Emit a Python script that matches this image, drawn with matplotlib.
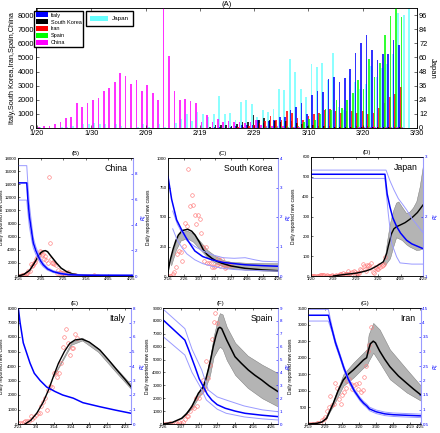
import numpy as np
import matplotlib
matplotlib.use("Agg")
import matplotlib.pyplot as plt
from matplotlib.patches import Patch

plt.rcParams["font.family"] = ["Liberation Sans", "DejaVu Sans"]
plt.rcParams["xtick.direction"] = "in"
plt.rcParams["ytick.direction"] = "in"
plt.rcParams["axes.linewidth"] = 0.5
plt.rcParams["xtick.major.width"] = 0.4
plt.rcParams["ytick.major.width"] = 0.4
plt.rcParams["xtick.major.size"] = 2
plt.rcParams["ytick.major.size"] = 2

# ---------------- panel A : daily new cases, day 0 = 1/20 ----------------
a_tick_days = [0, 10, 20, 30, 40, 50, 60, 70]
a_tick_labels = ["1/20", "1/30", "2/09", "2/19", "2/29", "3/10", "3/20", "3/30"]

china_new = [77, 149, 131, 259, 444, 688, 769, 1771, 1459, 1737, 1981, 2099, 2589, 2825,
             3235, 3884, 3694, 3143, 3385, 2652, 3070, 2478, 2015, 15152, 5090, 2641, 2008,
             2048, 1886, 1749, 394, 889, 397, 648, 409, 508, 406, 433, 327, 427, 573, 202,
             125, 119, 139, 143, 99, 44, 40, 19, 24, 15, 8, 11, 20, 16, 21, 13, 34, 39, 41,
             46, 39, 78, 47, 67, 55, 54]
italy_start = 32
italy_new = [17, 59, 78, 72, 94, 147, 185, 234, 239, 566, 342, 466, 587, 769, 778, 1247,
             1492, 1797, 977, 2313, 2651, 2547, 3497, 3590, 3233, 3526, 4207, 5322, 5986,
             6557, 5560, 4789, 5249, 5210, 6203, 5909]
skorea_start = 27
skorea_new = [0, 1, 1, 15, 34, 74, 190, 210, 207, 130, 253, 449, 427, 909, 595, 686, 600,
              516, 438, 518, 483, 367, 248, 131, 242, 114, 110, 107, 76, 74, 84, 93, 152,
              87, 147, 98, 64, 76, 100, 104, 91]
iran_start = 30
iran_new = [2, 3, 13, 10, 15, 18, 34, 44, 106, 143, 205, 385, 523, 835, 586, 591, 1234,
            1076, 743, 595, 881, 958, 1075, 1289, 1365, 1209, 1053, 1178, 1192, 1046, 1237,
            966, 1028, 1411, 1762, 2206, 2389, 2926]
spain_start = 37
spain_new = [1, 10, 10, 13, 39, 36, 45, 57, 37, 141, 100, 173, 400, 622, 582, 1000, 1330,
             1250, 2000, 1400, 2000, 2500, 3400, 2750, 4900, 3600, 4580, 6580, 7900, 8600,
             7830]
japan_new = [1, 0, 0, 0, 1, 1, 2, 0, 3, 3, 4, 3, 3, 0, 3, 2, 0, 0, 1, 3, 1, 0, 3, 1, 0, 4,
             8, 12, 6, 14, 12, 9, 12, 27, 12, 13, 7, 22, 24, 20, 9, 15, 14, 16, 33, 32, 59,
             48, 33, 26, 54, 52, 55, 41, 64, 18, 15, 44, 39, 33, 37, 53, 43, 51, 54, 63, 98,
             96, 112]

# ---------------- panel B : China (day 0 = 1/16) ----------------
b_ticks = [0, 20, 40, 60, 80, 100]
b_labels = ["1/16", "2/05", "2/25", "3/16", "4/05", "4/25"]
b_early = [4, 17, 59, 77]
b_fit_days = [0, 5, 10, 14, 17, 20, 22, 24, 26, 28, 31, 34, 38, 43, 48, 55, 65, 80, 102]
b_fit = [0, 250, 850, 1900, 2800, 3550, 3800, 3870, 3700, 3250, 2600, 1950, 1200, 650, 330,
         120, 30, 5, 0]
b_rt_days = [0, 7.5, 8.5, 9.8, 11.9, 13.3, 15.5, 17.7, 20, 22.2, 26, 31, 37, 45, 60, 102]
b_rt = [7.3, 7.3, 6.0, 4.7, 3.4, 2.6, 2.0, 1.55, 1.15, 0.87, 0.55, 0.34, 0.2, 0.1, 0.06, 0.05]
b_rt_hi = [8.65, 8.65, 7.2, 5.6, 4.0, 3.0, 2.3, 1.8, 1.35, 1.0, 0.65, 0.42, 0.26, 0.15, 0.1, 0.08]
b_rt_lo = [5.95, 5.95, 5.0, 3.9, 2.8, 2.2, 1.7, 1.3, 0.95, 0.72, 0.45, 0.27, 0.15, 0.07, 0.03, 0.02]

# ---------------- panel C : South Korea (day 0 = 2/16) ----------------
c_ticks = [0, 10, 20, 30, 40, 50, 60, 70]
c_labels = ["2/16", "2/26", "3/07", "3/17", "3/27", "4/06", "4/16", "4/26"]
c_fit_days = [0, 1.5, 3.4, 5, 6.6, 9, 12.5, 15, 17.2, 20, 22.5, 25, 27.8, 31, 34.2, 40, 49, 60, 70]
c_fit = [36, 140, 235, 300, 347, 385, 396, 380, 347, 285, 220, 180, 150, 125, 108, 85, 65, 52, 45]
c_band_days = [2, 5, 8, 12, 16, 20, 25, 30, 35, 40, 50, 60, 70]
c_band_hi = [150, 300, 370, 385, 360, 300, 220, 170, 135, 120, 112, 110, 108]
c_band_lo = [90, 220, 300, 320, 290, 230, 160, 110, 80, 65, 52, 46, 42]
c_rt_days = [0, 2.3, 5.5, 8.7, 12, 17, 22, 27.8, 35, 49, 60, 70]
c_rt = [3.37, 2.6, 1.9, 1.56, 1.25, 0.85, 0.66, 0.55, 0.46, 0.38, 0.35, 0.33]
c_ci_days = [3, 6, 9, 12, 17, 22, 28, 35, 42, 49, 55, 60, 70]
c_rt_hi = [2.2, 1.75, 1.45, 1.2, 1.0, 0.85, 0.72, 0.62, 0.6, 0.62, 0.55, 0.5, 0.48]
c_rt_lo = [1.6, 1.2, 0.95, 0.75, 0.55, 0.42, 0.33, 0.26, 0.22, 0.2, 0.19, 0.18, 0.17]

# ---------------- panel D : Japan (day 0 = 1/20) ----------------
d_ticks = [0, 20, 40, 60, 80, 100]
d_labels = ["1/20", "2/09", "2/29", "3/20", "4/09", "4/29"]
d_obs_days = 67
d_fit_days = [20, 26, 32, 37, 41, 45, 50, 54, 58.6, 62, 64.6, 66, 67.6, 69, 70.5, 72, 74,
              76.5, 80, 84, 88, 91.3, 95, 100]
d_fit = [0, 5, 9, 12, 15, 20, 27, 36, 50, 62, 72, 90, 115, 150, 182, 215, 238, 249, 258,
         269, 285, 300, 320, 358]
d_band_days = [64, 66, 68, 70.5, 73.5, 76, 78, 81, 85, 88, 91, 94, 97, 100]
d_band_hi = [72, 97, 180, 267, 333, 370, 376, 350, 317, 325, 345, 376, 450, 560]
d_band_lo = [72, 55, 70, 89, 150, 195, 190, 182, 160, 148, 140, 131, 133, 140]
d_rt_days = [0, 66, 68, 70.5, 73, 76.5, 80, 85.4, 90, 95, 100]
d_rt = [2.71, 2.71, 2.38, 2.16, 1.98, 1.83, 1.72, 1.6, 1.54, 1.5, 1.46]
d_hi_days = [0, 67, 70.5, 74, 78, 82, 85.4, 90, 95, 100]
d_rt_hi = [2.78, 2.78, 2.6, 2.45, 2.3, 2.2, 2.11, 1.97, 1.85, 1.73]
d_lo_days = [0, 66, 69, 72, 76.5, 79.5, 90, 100]
d_rt_lo = [2.64, 2.64, 2.05, 1.55, 1.32, 1.22, 1.2, 1.2]

# ---------------- panel E : Italy (day 0 = 2/23) ----------------
e_ticks = [0, 10, 20, 30, 40, 50, 60]
e_labels = ["2/23", "3/4", "3/14", "3/24", "4/3", "4/13", "4/23"]
e_fit_days = [3.8, 7, 10.4, 14, 17, 20, 22.6, 26, 29, 32, 35.8, 40, 46, 51, 55.6, 60, 63.5]
e_fit = [0, 250, 740, 1500, 2340, 3350, 4180, 5000, 5560, 5800, 5860, 5650, 5100, 4400,
         3720, 3100, 2570]
e_band_days = [20, 30, 36, 45, 55, 63.5]
e_band_hi = [3400, 5650, 5960, 5230, 3870, 2730]
e_band_lo = [3300, 5470, 5760, 4970, 3570, 2420]
e_rt_days = [0, 1, 2.8, 6.6, 9, 12.3, 16, 20.7, 25, 31, 36.4, 46, 55, 63.5]
e_rt = [8.0, 7.0, 5.6, 4.2, 3.5, 3.0, 2.55, 2.24, 2.0, 1.78, 1.47, 1.19, 0.95, 0.74]

# ---------------- panel F : Spain (day 0 = 2/26) ----------------
f_ticks = [0, 10, 20, 30, 40, 50, 60]
f_labels = ["2/26", "3/07", "3/17", "3/27", "4/6", "4/16", "4/26"]
f_fit_days = [0, 5, 10.2, 13, 15.8, 18, 19.5, 21, 22.3, 23.7, 25, 26.5, 27.8, 29.2, 30.6,
              31.5, 32.5, 35.3, 39.9, 43.5, 47.3, 51, 54.8, 59, 64]
f_fit = [0, 120, 440, 800, 1340, 1950, 2380, 2650, 2890, 3500, 4190, 5100, 6000, 6800, 7420,
         7500, 7400, 6510, 5220, 4700, 4190, 3780, 3410, 2950, 2500]
f_band_days = [10, 16, 20, 23, 26, 28, 30.6, 31.5, 33, 35.3, 40, 47, 55, 64]
f_band_hi = [480, 1450, 2600, 3300, 5100, 6800, 8300, 8600, 8500, 7540, 6300, 5300, 4600, 3930]
f_band_lo = [400, 1230, 2150, 2600, 3800, 5200, 5850, 6000, 5800, 4960, 3800, 2800, 2000, 1340]
f_rt_days = [0, 12, 14, 17.6, 20, 22.3, 24.5, 27, 30, 34.5, 40, 45.5, 55, 64]
f_rt = [8.06, 6.51, 5.8, 4.45, 3.5, 2.89, 2.3, 1.86, 1.5, 1.22, 1.0, 0.83, 0.68, 0.57]
f_hi_days = [0, 12, 16, 21.4, 25, 30, 35, 45, 55, 64]
f_rt_hi = [8.9, 7.4, 5.8, 4.19, 2.64, 2.1, 1.86, 1.4, 1.1, 0.95]
f_lo_days = [0, 12, 16, 20.5, 24, 30, 35, 45, 55, 64]
f_rt_lo = [6.77, 5.35, 4.0, 2.9, 1.86, 1.15, 0.83, 0.55, 0.4, 0.31]

# ---------------- panel G : Iran (day 0 = 2/19) ----------------
g_ticks = [0, 10, 20, 30, 40, 50, 60, 66]
g_labels = ["2/19", "2/29", "3/10", "3/20", "3/30", "4/09", "4/19", "4/25"]
g_fit_days = [0, 5, 8, 10.8, 14.7, 17.5, 20.6, 23.5, 26.5, 29.5, 32.4, 34.3, 35.5, 36.5,
              38.2, 39.5, 42, 45, 48, 53, 57.9, 62, 66.3]
g_fit = [0, 20, 60, 170, 625, 1000, 1330, 1500, 1630, 1780, 1930, 2000, 2250, 2420, 2500,
         2450, 2200, 1950, 1730, 1450, 1230, 1050, 875]
g_band_days = [10, 14.7, 20.6, 26.5, 32.4, 34.3, 35.5, 38.2, 42, 48, 57.9, 66.3]
g_band_hi = [200, 700, 1500, 1850, 2150, 2250, 2700, 3050, 2850, 2250, 1650, 1150]
g_band_lo = [140, 550, 1150, 1400, 1700, 1750, 1900, 2150, 1850, 1350, 950, 700]
g_rt_days = [0, 11.8, 14, 16, 18.6, 21, 23.5, 27, 30.4, 32.5, 34.3, 36, 40, 45, 50, 58, 66.3]
g_rt = [4.25, 4.25, 3.75, 3.3, 2.85, 2.42, 2.05, 1.65, 1.36, 1.22, 1.13, 1.02, 0.92, 0.85,
        0.82, 0.8, 0.78]
g_rt_hi = [4.45, 4.45, 3.85, 3.38, 2.92, 2.49, 2.11, 1.71, 1.42, 1.28, 1.19, 1.08, 0.98,
           0.91, 0.88, 0.86, 0.84]
g_rt_lo = [4.05, 4.05, 3.67, 3.22, 2.78, 2.35, 1.99, 1.59, 1.3, 1.16, 1.07, 0.96, 0.86,
           0.79, 0.76, 0.74, 0.72]

BLUE = "#0000ff"
LIGHTBLUE = "#9a9aff"
CIRCLE = "#ff7b7b"

fig = plt.figure(figsize=(4.4, 4.33), dpi=100)


def px_rect(x0, y0, x1, y1):
    return [x0 / 440, 1 - y1 / 433, (x1 - x0) / 440, (y1 - y0) / 433]


# ---------------- draw A ----------------
axA = fig.add_axes(px_rect(36, 8, 417, 128))
axJ = axA.twinx()
series = [(italy_start, italy_new, "Italy", "#0000ff"),
          (skorea_start, skorea_new, "South Korea", "#000000"),
          (iran_start, iran_new, "Iran", "#ff0000"),
          (spain_start, spain_new, "Spain", "#00ff00"),
          (0, china_new, "China", "#ff00ff")]
offsets = [-0.3, -0.15, 0.0, 0.15, 0.3]
handles = []
for (start, vals, lab, col), off in zip(series, offsets):
    days = start + np.arange(len(vals))
    axA.bar(days + off, vals, width=0.3, color=col, alpha=0.8, linewidth=0)
    handles.append(Patch(facecolor=col, edgecolor="none", label=lab))
axJ.bar(np.arange(len(japan_new)) + 0.55, japan_new, width=0.34, color="#00ffff",
        alpha=0.45, linewidth=0)
axA.set_zorder(axJ.get_zorder() + 1)
axA.patch.set_visible(False)

axA.set_xlim(-0.2, 70)
axA.set_ylim(0, 8500)
axJ.set_ylim(0, 102)
axA.set_xticks(a_tick_days)
axA.set_xticklabels(a_tick_labels)
axA.set_yticks(range(0, 8001, 1000))
axJ.set_yticks(range(0, 97, 12))
axA.tick_params(labelsize=5.3, pad=1.5, top=True)
axJ.tick_params(labelsize=5.3, pad=1.5)
axA.set_ylabel("Italy,South Korea,Iran,Spain,China", fontsize=5.3, labelpad=1)
axJ.set_ylabel("Japan", fontsize=5.5, rotation=270, labelpad=6)
axA.set_title("(A)", fontsize=5.5, pad=1.5)
axA.legend(handles=handles, loc="upper left", bbox_to_anchor=(-0.012, 1.0), fontsize=4,
           handlelength=2.2, handleheight=0.9, labelspacing=0.3, borderpad=0.3,
           handletextpad=0.5, fancybox=False, edgecolor="black", framealpha=1)
axJ.legend(handles=[Patch(facecolor="#00ffff", alpha=0.6, label="Japan")], loc="upper left",
           bbox_to_anchor=(0.123, 1.0), fontsize=4.5, handlelength=2.8, handleheight=1.0,
           borderpad=0.7, handletextpad=0.6, fancybox=False, edgecolor="black", framealpha=1)


# ---------------- panels B-G ----------------
def panel(px, title, name, xlim, xticks, xlabels, ylim, yticks, rlim, rticks, rlabels,
          ylab_x, rlab_x):
    x0, y0, x1, y1 = px
    ax = fig.add_axes(px_rect(x0, y0, x1, y1))
    axr = ax.twinx()
    ax.set_xlim(*xlim)
    ax.set_xticks(xticks)
    ax.set_xticklabels(xlabels)
    ax.set_ylim(*ylim)
    ax.set_yticks(yticks)
    axr.set_ylim(*rlim)
    axr.set_yticks(rticks)
    axr.set_yticklabels(rlabels)
    ax.tick_params(labelsize=3.2, pad=1, top=True, length=1.5)
    axr.tick_params(labelsize=3.2, pad=1, colors=BLUE, length=1.5)
    axr.spines["right"].set_color(LIGHTBLUE)
    axr.spines["right"].set_linewidth(0.8)
    ax.set_ylabel("Daily reported new cases", fontsize=3.5)
    ax.yaxis.set_label_coords((ylab_x - x0) / (x1 - x0), 0.5)
    axr.set_ylabel(r"$R_t^c$", fontsize=3.6, color=BLUE, rotation=90)
    axr.yaxis.set_label_coords((rlab_x - x0) / (x1 - x0), 0.5)
    ax.set_title(title, fontsize=4.3, pad=2)
    ax.text(0.95, 0.95, name, transform=ax.transAxes, ha="right", va="top", fontsize=6.3)
    return ax, axr


def circles(ax, vals):
    ax.plot(np.arange(len(vals)), vals, "o", ms=2.6, mfc="none", mec=CIRCLE, mew=0.45)


# B China
axB, axBr = panel((18.3, 158, 133.3, 276), "(B)", "China", (0, 102), b_ticks, b_labels,
                  (0, 18000), range(0, 18001, 2000), (0, 9.25), [0, 2, 4, 6, 8],
                  ["0", "2", "4", "6", "8"], 4.5, 139.5)
circles(axB, b_early + china_new)
axB.plot(b_fit_days, b_fit, color="black", lw=1.1)
axBr.plot(b_rt_days, b_rt_hi, color=LIGHTBLUE, lw=0.7)
axBr.plot(b_rt_days, b_rt_lo, color=LIGHTBLUE, lw=0.7)
axBr.plot(b_rt_days, b_rt, color=BLUE, lw=1.1)

# C South Korea
axC, axCr = panel((168, 158, 278.3, 276), "(C)", "South Korea", (0, 70), c_ticks,
                  c_labels, (0, 1000), [0, 250, 500, 750, 1000], (0, 4), [0, 1, 2, 3, 4],
                  ["0", "1", "2", "3", "4"], 150.5, 284)
axC.fill_between(c_band_days, c_band_lo, c_band_hi, color="#b4b4b4", ec="#707070", lw=0.3)
circles(axC, skorea_new)
axC.plot(c_fit_days, c_fit, color="black", lw=1.1)
axCr.plot(c_ci_days, c_rt_hi, color=LIGHTBLUE, lw=0.7)
axCr.plot(c_ci_days, c_rt_lo, color=LIGHTBLUE, lw=0.7)
axCr.plot(c_rt_days, c_rt, color=BLUE, lw=1.1)

# D Japan
axD, axDr = panel((311, 157, 423, 276), "(D)", "Japan", (0, 100), d_ticks, d_labels,
                  (0, 600), range(0, 601, 100), (1, 3), [1, 2, 3], ["1", "2", "3"],
                  295.5, 431)
axD.fill_between(d_band_days, d_band_lo, d_band_hi, color="#b4b4b4", ec="#707070", lw=0.3)
circles(axD, japan_new[:d_obs_days])
axD.plot(d_fit_days, d_fit, color="black", lw=1.0)
axDr.plot(d_hi_days, d_rt_hi, color=LIGHTBLUE, lw=0.7)
axDr.plot(d_lo_days, d_rt_lo, color=LIGHTBLUE, lw=0.7)
axDr.plot(d_rt_days, d_rt, color=BLUE, lw=1.1)

# E Italy
axE, axEr = panel((18.3, 308, 131, 424), "(E)", "Italy", (0, 63.5), e_ticks, e_labels,
                  (0, 8000), range(0, 8001, 1000), (0, 8), range(0, 9),
                  [str(v) for v in range(0, 9)], 4.5, 138)
axE.fill_between(e_band_days, e_band_lo, e_band_hi, color="#b4b4b4", ec="#707070", lw=0.3)
circles(axE, italy_new[2:])
axE.plot(e_fit_days, e_fit, color="black", lw=1.0)
axEr.plot(e_rt_days, e_rt, color=BLUE, lw=1.1)

# F Spain
axF, axFr = panel((163.3, 308, 278.3, 424), "(F)", "Spain", (0, 64), f_ticks, f_labels,
                  (0, 9000), range(0, 9001, 1000), (0, 9), range(0, 10),
                  [str(v) for v in range(0, 10)], 149.5, 284.5)
axF.fill_between(f_band_days, f_band_lo, f_band_hi, color="#b4b4b4", ec="#707070", lw=0.3)
circles(axF, spain_new)
axF.plot(f_fit_days, f_fit, color="black", lw=1.1)
axFr.plot(f_hi_days, f_rt_hi, color=LIGHTBLUE, lw=0.7)
axFr.plot(f_lo_days, f_rt_lo, color=LIGHTBLUE, lw=0.7)
axFr.plot(f_rt_days, f_rt, color=BLUE, lw=1.1)

# G Iran
axG, axGr = panel((308.3, 308, 421, 424), "(G)", "Iran", (0, 66.3), g_ticks, g_labels,
                  (0, 3500), range(0, 3501, 500), (0.5, 4.5),
                  [0.5, 1, 1.5, 2, 2.5, 3, 3.5, 4, 4.5],
                  ["0.5", "1", "1.5", "2", "2.5", "3", "3.5", "4", "4.5"], 293, 431)
axG.fill_between(g_band_days, g_band_lo, g_band_hi, color="#b4b4b4", ec="#707070", lw=0.3)
circles(axG, iran_new)
axG.plot(g_fit_days, g_fit, color="black", lw=1.1)
axGr.plot(g_rt_days, g_rt_hi, color=LIGHTBLUE, lw=0.7)
axGr.plot(g_rt_days, g_rt_lo, color=LIGHTBLUE, lw=0.7)
axGr.plot(g_rt_days, g_rt, color=BLUE, lw=1.1)

fig.savefig("out.png", dpi=100)
